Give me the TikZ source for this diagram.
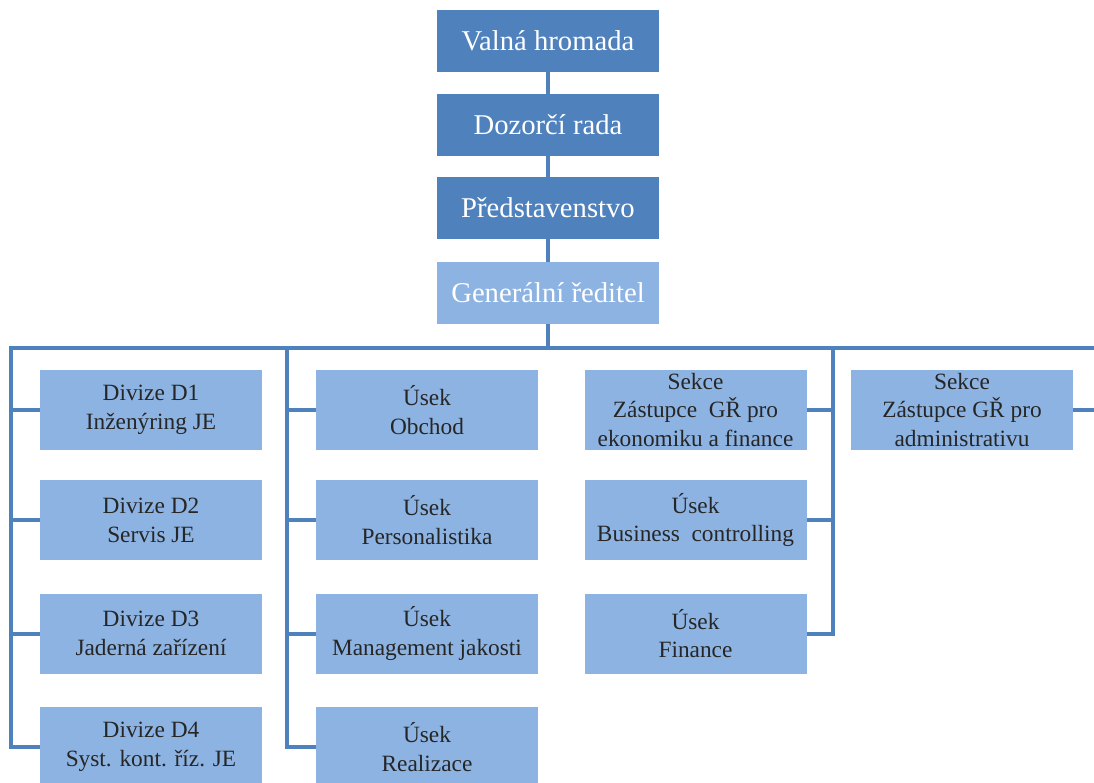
\documentclass[tikz,border=0pt]{standalone}
\usepackage{fontspec}
\setmainfont{Liberation Serif}
\definecolor{dark}{HTML}{4F81BD}
\definecolor{light}{HTML}{8DB3E2}
\definecolor{txt}{HTML}{262626}
\begin{document}
\begin{tikzpicture}[x=0.75pt,y=-0.75pt,
  topbox/.style={fill=dark,draw=none,minimum width=166.5pt,minimum height=46.5pt,inner sep=0pt,text=white,font=\fontsize{21.5}{25}\selectfont},
  genbox/.style={topbox,fill=light},
  unitbox/.style={fill=light,draw=none,minimum width=166.5pt,minimum height=60pt,inner sep=0pt,text=txt,align=center,font=\fontsize{17.5}{21.6}\selectfont},
  link/.style={draw=dark,line width=3pt,line join=miter}]
\useasboundingbox (0,0) rectangle (1094,782);
\clip (0,0) rectangle (1094,782);
% top chain
\node[topbox] (v) at (548,41) {Valná hromada};
\node[topbox] (dr) at (548,125) {Dozorčí rada};
\node[topbox] (p) at (548,208) {Představenstvo};
\node[genbox] (g) at (548,293) {Generální ředitel};
% column 1
\node[unitbox] (d1) at (151,410) {Divize D1\\Inženýring JE};
\node[unitbox] (d2) at (151,520) {Divize D2\\Servis JE};
\node[unitbox] (d3) at (151,633.5) {Divize D3\\Jaderná zařízení};
\node[unitbox] (d4) at (151,747) {Divize D4\\Syst. kont. říz. JE};
% column 2
\node[unitbox] (u1) at (427,410) {Úsek\\Obchod};
\node[unitbox] (u2) at (427,520) {Úsek\\Personalistika};
\node[unitbox] (u3) at (427,633.5) {Úsek\\Management jakosti};
\node[unitbox] (u4) at (427,747) {Úsek\\Realizace};
% column 3
\node[unitbox] (s1) at (695.5,410) {Sekce\\Zástupce\ \ GŘ pro\\ekonomiku a finance};
\node[unitbox] (bc) at (695.5,520) {Úsek\\Business\ \ controlling};
\node[unitbox] (fi) at (695.5,633.5) {Úsek\\Finance};
% column 4
\node[unitbox] (s2) at (962,410) {Sekce\\Zástupce GŘ pro\\administrativu};
% bus coordinates
\coordinate (l1) at (11,348);
\coordinate (l2) at (287,348);
\coordinate (l3) at (833,348);
\coordinate (r0) at (1110,348);
\coordinate (r1) at (1110,410);
% connectors
\draw[link] (v) -- (dr);
\draw[link] (dr) -- (p);
\draw[link] (p) -- (g);
\draw[link] (g.south) -- (g.south |- l1);
\draw[link] (d4.west) -| (l1) -- (r0);
\draw[link] (d1.west) -- (d1.west -| l1);
\draw[link] (d2.west) -- (d2.west -| l1);
\draw[link] (d3.west) -- (d3.west -| l1);
\draw[link] (u4.west) -| (l2);
\draw[link] (u1.west) -- (u1.west -| l2);
\draw[link] (u2.west) -- (u2.west -| l2);
\draw[link] (u3.west) -- (u3.west -| l2);
\draw[link] (fi.east) -| (l3);
\draw[link] (s1.east) -- (s1.east -| l3);
\draw[link] (bc.east) -- (bc.east -| l3);
\draw[link] (s2.east) -- (r1);
\end{tikzpicture}
\end{document}
